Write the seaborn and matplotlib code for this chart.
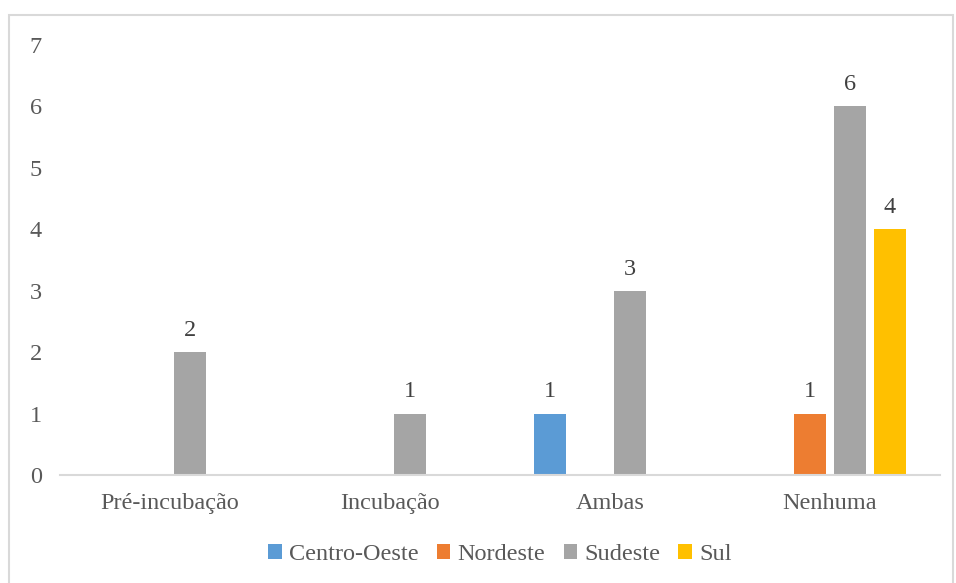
import matplotlib
matplotlib.use('Agg')
import matplotlib.pyplot as plt
from matplotlib.patches import Rectangle
import seaborn as sns
import pandas as pd

# dados
fases = ['Pré-incubação', 'Incubação', 'Ambas', 'Nenhuma']
regioes = ['Centro-Oeste', 'Nordeste', 'Sudeste', 'Sul']
centro_oeste = [0, 0, 1, 0]
nordeste = [0, 0, 0, 1]
sudeste = [2, 1, 3, 6]
sul = [0, 0, 0, 4]

cores = ['#5B9BD5', '#ED7D31', '#A5A5A5', '#FFC000']

df = pd.DataFrame({'Fase': fases * 4,
                   'Regiao': [r for r in regioes for _ in fases],
                   'Valor': centro_oeste + nordeste + sudeste + sul})

sns.set_style('white')
plt.rcParams['font.family'] = ['Liberation Serif', 'DejaVu Serif']
texto = '#595959'
fs = 17.5

fig = plt.figure(figsize=(9.56, 5.83), dpi=100)
ax = fig.add_axes([60 / 956, 1 - 475 / 583, 880 / 956, 430 / 583])

sns.barplot(data=df, x='Fase', y='Valor', hue='Regiao', order=fases,
            hue_order=regioes, palette=cores, width=0.727, gap=0.2,
            linewidth=0, edgecolor='none', saturation=1, ax=ax)

# rótulos de dados só nas barras não nulas
for cont in ax.containers:
    for barra in cont:
        h = barra.get_height()
        if h > 0:
            ax.annotate(f'{int(h)}', (barra.get_x() + barra.get_width() / 2, h),
                        xytext=(0, 8), textcoords='offset points',
                        ha='center', va='bottom', fontsize=fs, color='#404040')

ax.set_ylim(0, 7)
ax.set_xlim(-0.5, 3.5)
ax.set_yticks(range(0, 8))
ax.set_xlabel('')
ax.set_ylabel('')
ax.tick_params(axis='both', length=0, labelsize=fs, labelcolor=texto)
ax.tick_params(axis='x', pad=13)
ax.tick_params(axis='y', pad=13)
for lado in ['top', 'right', 'left']:
    ax.spines[lado].set_visible(False)
ax.spines['bottom'].set_color('#D9D9D9')
ax.spines['bottom'].set_linewidth(1.5)

ax.legend(loc='center', bbox_to_anchor=(0.5, -0.185), ncol=4, frameon=False,
          fontsize=fs, handlelength=0.55, handleheight=0.55, handletextpad=0.3,
          columnspacing=0.75, labelcolor=texto)

# borda da área do gráfico
fig.patches.append(Rectangle((8.5 / 956, -0.05), 944 / 956, 1.05 - 15 / 583,
                             transform=fig.transFigure, fill=False,
                             edgecolor='#D9D9D9', linewidth=1.5))

plt.savefig('out.png', dpi=100)
